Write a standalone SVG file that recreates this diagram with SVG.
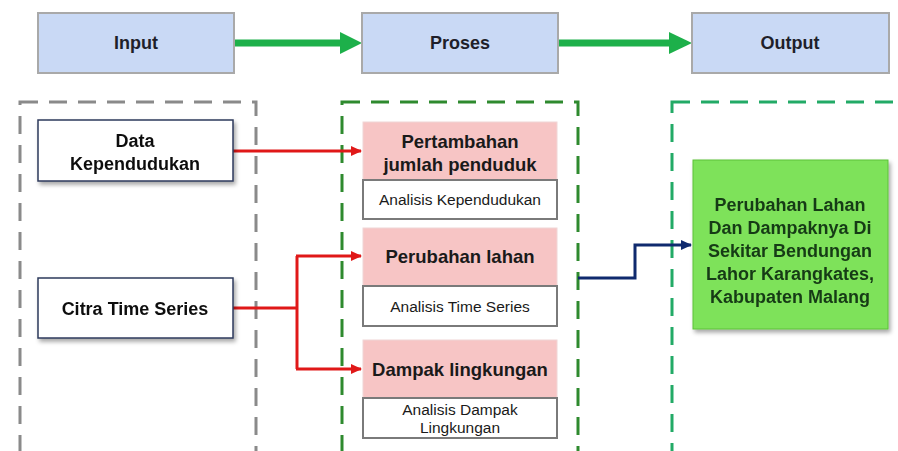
<svg xmlns="http://www.w3.org/2000/svg" width="898" height="451" viewBox="0 0 898 451">
<defs>
<style>
.hdr{fill:#c9d9f5;stroke:#a9a9a9;stroke-width:2}
.ht{font-family:"Liberation Sans",Arial,sans-serif;font-weight:bold;font-size:18px;fill:#1f1f2a;text-anchor:middle}
.inp{fill:#ffffff;stroke:#2e3a5c;stroke-width:1.5}
.bt{font-family:"Liberation Sans",Arial,sans-serif;font-weight:bold;font-size:18px;fill:#111;text-anchor:middle}
.pink{fill:#f7c5c5;stroke:#f0d6d6;stroke-width:1}
.pt{font-family:"Liberation Sans",Arial,sans-serif;font-weight:bold;font-size:18.5px;fill:#1a1a1a;text-anchor:middle}
.wb{fill:#ffffff;stroke:#7a7a7a;stroke-width:2}
.wt{font-family:"Liberation Sans",Arial,sans-serif;font-size:15.5px;fill:#1a1a1a;text-anchor:middle}
.ot{font-family:"Liberation Sans",Arial,sans-serif;font-weight:bold;font-size:18px;fill:#163a16;text-anchor:middle}
.red{fill:none;stroke:#e01818;stroke-width:3}
.blue{fill:none;stroke:#0f2a6e;stroke-width:3}
.grn{fill:none;stroke:#1db04a;stroke-width:7}
</style>
<marker id="ah-red" markerWidth="11" markerHeight="10" refX="10" refY="5" orient="auto" markerUnits="userSpaceOnUse" viewBox="0 0 11 10"><path d="M0,0 L11,5 L0,10 z" fill="#e01818"/></marker>
<marker id="ah-blue" markerWidth="11" markerHeight="10" refX="10" refY="5" orient="auto" markerUnits="userSpaceOnUse" viewBox="0 0 11 10"><path d="M0,0 L11,5 L0,10 z" fill="#0f2a6e"/></marker>
<filter id="sh" x="-10%" y="-10%" width="130%" height="130%"><feDropShadow dx="2" dy="3" stdDeviation="2" flood-color="#000" flood-opacity="0.35"/></filter>
</defs>
<rect x="0" y="0" width="898" height="451" fill="#ffffff"/>

<g id="containers">
<rect x="20" y="102" width="236" height="360" fill="none" stroke="#8a8a8a" stroke-width="3" stroke-dasharray="18,11"/>
<rect x="342" y="102" width="236" height="360" fill="none" stroke="#2e8a2e" stroke-width="3" stroke-dasharray="18,11"/>
<rect x="672" y="102" width="240" height="360" fill="none" stroke="#22aa66" stroke-width="3" stroke-dasharray="18,11"/>
</g>

<g id="connectors">
<line class="grn" x1="234" y1="43" x2="342" y2="43"/>
<path d="M340,32 L362,43 L340,54 z" fill="#1db04a"/>
<line class="grn" x1="558" y1="43" x2="670" y2="43"/>
<path d="M669,32 L692,43 L669,54 z" fill="#1db04a"/>
<path class="red" d="M233,151 L361,151" marker-end="url(#ah-red)"/>
<path class="red" d="M233,308 L297,308"/>
<path class="red" d="M297,256 L297,369"/>
<path class="red" d="M296,256 L361,256" marker-end="url(#ah-red)"/>
<path class="red" d="M296,369 L361,369" marker-end="url(#ah-red)"/>
<path class="blue" d="M578,278 L635,278 L635,245 L691,245" marker-end="url(#ah-blue)"/>
</g>

<g id="hdr-input"><rect class="hdr" x="38" y="13" width="196" height="60"/><text class="ht" x="136" y="49">Input</text></g>
<g id="hdr-proses"><rect class="hdr" x="362" y="13" width="196" height="60"/><text class="ht" x="460" y="49">Proses</text></g>
<g id="hdr-output"><rect class="hdr" x="692" y="13" width="197" height="60"/><text class="ht" x="790" y="49">Output</text></g>

<g id="data-kependudukan" filter="url(#sh)"><rect class="inp" x="38" y="120" width="195" height="61"/>
<text class="bt" x="135" y="147">Data</text><text class="bt" x="135" y="170">Kependudukan</text></g>
<g id="citra-time-series" filter="url(#sh)"><rect class="inp" x="38" y="278" width="195" height="60"/>
<text class="bt" x="135" y="315">Citra Time Series</text></g>

<g id="pertambahan"><rect class="pink" x="363" y="122" width="194" height="58"/>
<text class="pt" x="460" y="148">Pertambahan</text><text class="pt" x="460" y="171">jumlah penduduk</text></g>
<g id="analisis-kependudukan"><rect class="wb" x="363" y="180" width="194" height="39"/>
<text class="wt" x="460" y="205">Analisis Kependudukan</text></g>

<g id="perubahan-lahan"><rect class="pink" x="363" y="228" width="194" height="58"/>
<text class="pt" x="460" y="263">Perubahan lahan</text></g>
<g id="analisis-time-series"><rect class="wb" x="363" y="286" width="194" height="40"/>
<text class="wt" x="460" y="312">Analisis Time Series</text></g>

<g id="dampak-lingkungan"><rect class="pink" x="363" y="340" width="194" height="58"/>
<text class="pt" x="460" y="376">Dampak lingkungan</text></g>
<g id="analisis-dampak"><rect class="wb" x="363" y="398" width="194" height="40"/>
<text class="wt" x="460" y="415">Analisis Dampak</text><text class="wt" x="460" y="433">Lingkungan</text></g>

<g id="output-result" filter="url(#sh)"><rect x="693" y="160" width="195" height="169" fill="#7ee25a" stroke="#5cc23a" stroke-width="1"/>
<text class="ot" x="790" y="211">Perubahan Lahan</text>
<text class="ot" x="790" y="234">Dan Dampaknya Di</text>
<text class="ot" x="790" y="257">Sekitar Bendungan</text>
<text class="ot" x="790" y="280">Lahor Karangkates,</text>
<text class="ot" x="790" y="303">Kabupaten Malang</text></g>
</svg>
